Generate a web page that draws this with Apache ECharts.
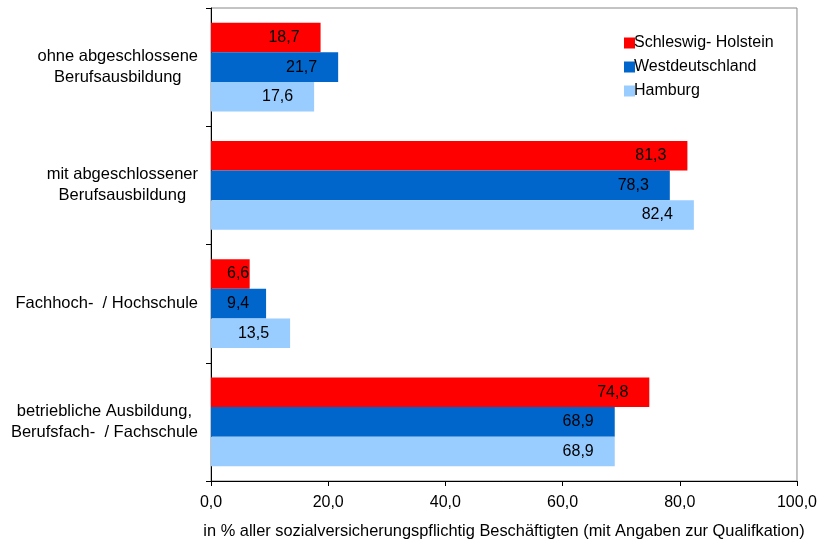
<!DOCTYPE html>
<html>
<head>
<meta charset="utf-8">
<script src="https://cdn.jsdelivr.net/npm/echarts@6/dist/echarts.min.js"></script>
<style>
  html, body { margin: 0; padding: 0; background: #fff; }
  #chart { width: 820px; height: 544px; }
</style>
</head>
<body>
<div id="chart"></div>
<script>
// Qualification groups (top to bottom)
const categories = [
  'ohne abgeschlossene\nBerufsausbildung',
  'mit abgeschlossener\nBerufsausbildung',
  'Fachhoch-  / Hochschule',
  'betriebliche Ausbildung,\nBerufsfach-  / Fachschule'
];

const seriesNames = ['Schleswig- Holstein', 'Westdeutschland', 'Hamburg'];
const schleswigHolstein = [18.7, 81.3, 6.6, 74.8];
const westdeutschland = [21.7, 78.3, 9.4, 68.9];
const hamburg = [17.6, 82.4, 13.5, 68.9];

const xTicks = [0, 20, 40, 60, 80, 100];

const colors = ['#FF0000', '#0066CC', '#99CCFF'];
const FONT = '"Liberation Sans", Arial, sans-serif';

const fmt = v => v.toFixed(1).replace('.', ',');

function makeSeries(name, values, color) {
  return {
    name: name,
    type: 'bar',
    barGap: '0%',
    barCategoryGap: '25%',
    itemStyle: { color: color },
    data: values.map(v => {
      // short bars keep their label near the axis
      if (v < 10) {
        return { value: v, label: { position: 'insideLeft', distance: 16 } };
      }
      return v;
    }),
    label: {
      show: true,
      position: 'insideRight',
      distance: 21,
      color: '#000',
      fontFamily: FONT,
      fontSize: 16,
      formatter: p => fmt(p.value)
    }
  };
}

const chart = echarts.init(document.getElementById('chart'), null, { renderer: 'canvas' });

chart.setOption({
  animation: false,
  backgroundColor: '#fff',
  textStyle: { fontFamily: FONT },
  grid: {
    left: 211, right: 23, top: 8, bottom: 62,
    show: true, borderColor: '#888', borderWidth: 1
  },
  legend: {
    orient: 'vertical',
    left: 619,
    top: 30,
    icon: 'rect',
    itemWidth: 11,
    itemHeight: 11,
    itemGap: 8,
    textStyle: { fontFamily: FONT, fontSize: 16, color: '#000', padding: [0, 0, 0, -6] },
    data: seriesNames
  },
  xAxis: {
    type: 'value',
    min: xTicks[0],
    max: xTicks[xTicks.length - 1],
    interval: xTicks[1] - xTicks[0],
    name: 'in % aller sozialversicherungspflichtig Beschäftigten (mit Angaben zur Qualifkation)',
    nameLocation: 'middle',
    nameGap: 42,
    nameTextStyle: { fontFamily: FONT, fontSize: 16.4, color: '#000' },
    axisLine: { show: true, lineStyle: { color: '#000', width: 1 } },
    axisTick: { show: true, length: 5, lineStyle: { color: '#000' } },
    splitLine: { show: false },
    axisLabel: {
      color: '#000', fontFamily: FONT, fontSize: 16, margin: 14,
      formatter: v => fmt(v)
    }
  },
  yAxis: {
    type: 'category',
    inverse: true,
    data: categories,
    axisLine: { show: true, lineStyle: { color: '#000', width: 1 } },
    axisTick: { show: true, length: 5, alignWithLabel: false, lineStyle: { color: '#000' } },
    axisLabel: {
      color: '#000', fontFamily: FONT, fontSize: 16.5, margin: 13, lineHeight: 21,
      formatter: v => v.split('\n').map(s => '{c|' + s + '}').join('\n'),
      rich: {
        c: { align: 'center', fontFamily: FONT, fontSize: 16.5, lineHeight: 21, color: '#000' }
      }
    }
  },
  series: [
    makeSeries(seriesNames[0], schleswigHolstein, colors[0]),
    makeSeries(seriesNames[1], westdeutschland, colors[1]),
    makeSeries(seriesNames[2], hamburg, colors[2])
  ]
});
</script>
</body>
</html>
